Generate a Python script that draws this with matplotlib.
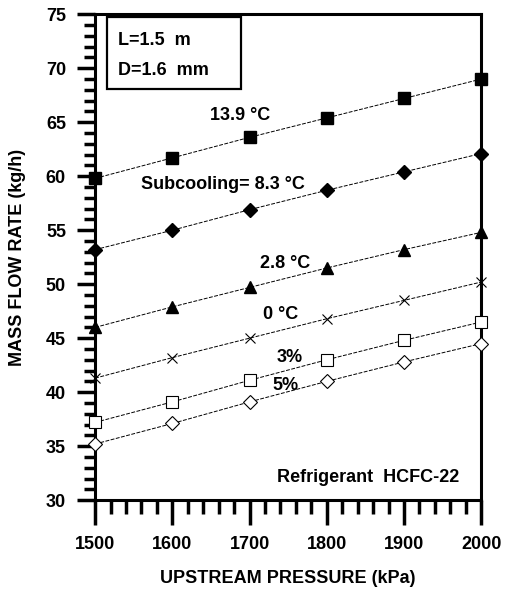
import numpy as np
import matplotlib
matplotlib.use("Agg")
import matplotlib.pyplot as plt
from matplotlib.patches import Rectangle
from matplotlib.ticker import MultipleLocator

plt.rcParams['font.family'] = ['Liberation Sans', 'DejaVu Sans']
plt.rcParams['font.weight'] = 'bold'

pressure = [1500, 1600, 1700, 1800, 1900, 2000]

sub_13_9 = [59.8, 61.7, 63.6, 65.4, 67.2, 69.0]
sub_8_3 = [53.2, 55.0, 56.9, 58.7, 60.4, 62.1]
sub_2_8 = [46.0, 47.9, 49.7, 51.5, 53.2, 54.8]
sub_0 = [41.3, 43.2, 45.0, 46.8, 48.5, 50.2]
quality_3 = [37.2, 39.1, 41.1, 43.0, 44.8, 46.5]
quality_5 = [35.2, 37.1, 39.1, 41.0, 42.8, 44.5]

x_ticks = [1500, 1600, 1700, 1800, 1900, 2000]
y_ticks = [30, 35, 40, 45, 50, 55, 60, 65, 70, 75]

fig = plt.figure(figsize=(5.06, 5.94), dpi=100)
ax = fig.add_axes([0.188, 0.158, 0.763, 0.818])

line_kw = dict(color='black', lw=0.7, ls=(0, (4, 1.5)), clip_on=False, zorder=3)
ax.plot(pressure, sub_13_9, marker='s', ms=8, mfc='black', mec='black', **line_kw)
ax.plot(pressure, sub_8_3, marker='D', ms=7, mfc='black', mec='black', **line_kw)
ax.plot(pressure, sub_2_8, marker='^', ms=8, mfc='black', mec='black', **line_kw)
ax.plot(pressure, sub_0, marker='x', ms=7, mew=0.8, mec='black', **line_kw)
ax.plot(pressure, quality_3, marker='s', ms=8, mfc='white', mec='black', mew=0.8, **line_kw)
ax.plot(pressure, quality_5, marker='D', ms=7, mfc='white', mec='black', mew=0.8, **line_kw)

fs = 13
ax.text(1688, 65.6, '13.9 °C', ha='center', va='center', fontsize=fs)
ax.text(1666, 59.2, 'Subcooling= 8.3 °C', ha='center', va='center', fontsize=fs)
ax.text(1746, 51.9, '2.8 °C', ha='center', va='center', fontsize=fs)
ax.text(1740, 47.2, '0 °C', ha='center', va='center', fontsize=fs)
ax.text(1752, 43.2, '3%', ha='center', va='center', fontsize=fs)
ax.text(1746, 40.6, '5%', ha='center', va='center', fontsize=fs)
ax.text(1854, 32.1, 'Refrigerant  HCFC-22', ha='center', va='center', fontsize=fs)

# parameter box, top left
ax.add_patch(Rectangle((0.031, 0.846), 0.347, 0.148, transform=ax.transAxes,
                       fc='white', ec='black', lw=1.6, zorder=4))
ax.text(0.06, 0.947, 'L=1.5  m', transform=ax.transAxes, ha='left', va='center',
        fontsize=fs, zorder=5)
ax.text(0.06, 0.885, 'D=1.6  mm', transform=ax.transAxes, ha='left', va='center',
        fontsize=fs, zorder=5)

ax.set_xlim(1500, 2000)
ax.set_ylim(30, 75)
ax.set_xticks(x_ticks)
ax.set_yticks(y_ticks)
ax.xaxis.set_minor_locator(MultipleLocator(20))
ax.yaxis.set_minor_locator(MultipleLocator(1))
ax.tick_params(axis='x', which='major', direction='out', color='black',
               width=2.5, length=18, labelsize=13, pad=8, bottom=True)
ax.tick_params(axis='x', which='minor', direction='out', color='black',
               width=2.5, length=10, bottom=True)
ax.tick_params(axis='y', which='major', direction='out', color='black',
               width=2.5, length=13, labelsize=13, pad=8, left=True)
ax.tick_params(axis='y', which='minor', direction='out', color='black',
               width=2.5, length=8, left=True)
for sp in ax.spines.values():
    sp.set_linewidth(2.2)

ax.set_xlabel('UPSTREAM PRESSURE (kPa)', fontsize=13, fontweight='bold', labelpad=12)
ax.set_ylabel('MASS FLOW RATE (kg/h)', fontsize=13, fontweight='bold', labelpad=14)

fig.savefig('out.png', dpi=100)
